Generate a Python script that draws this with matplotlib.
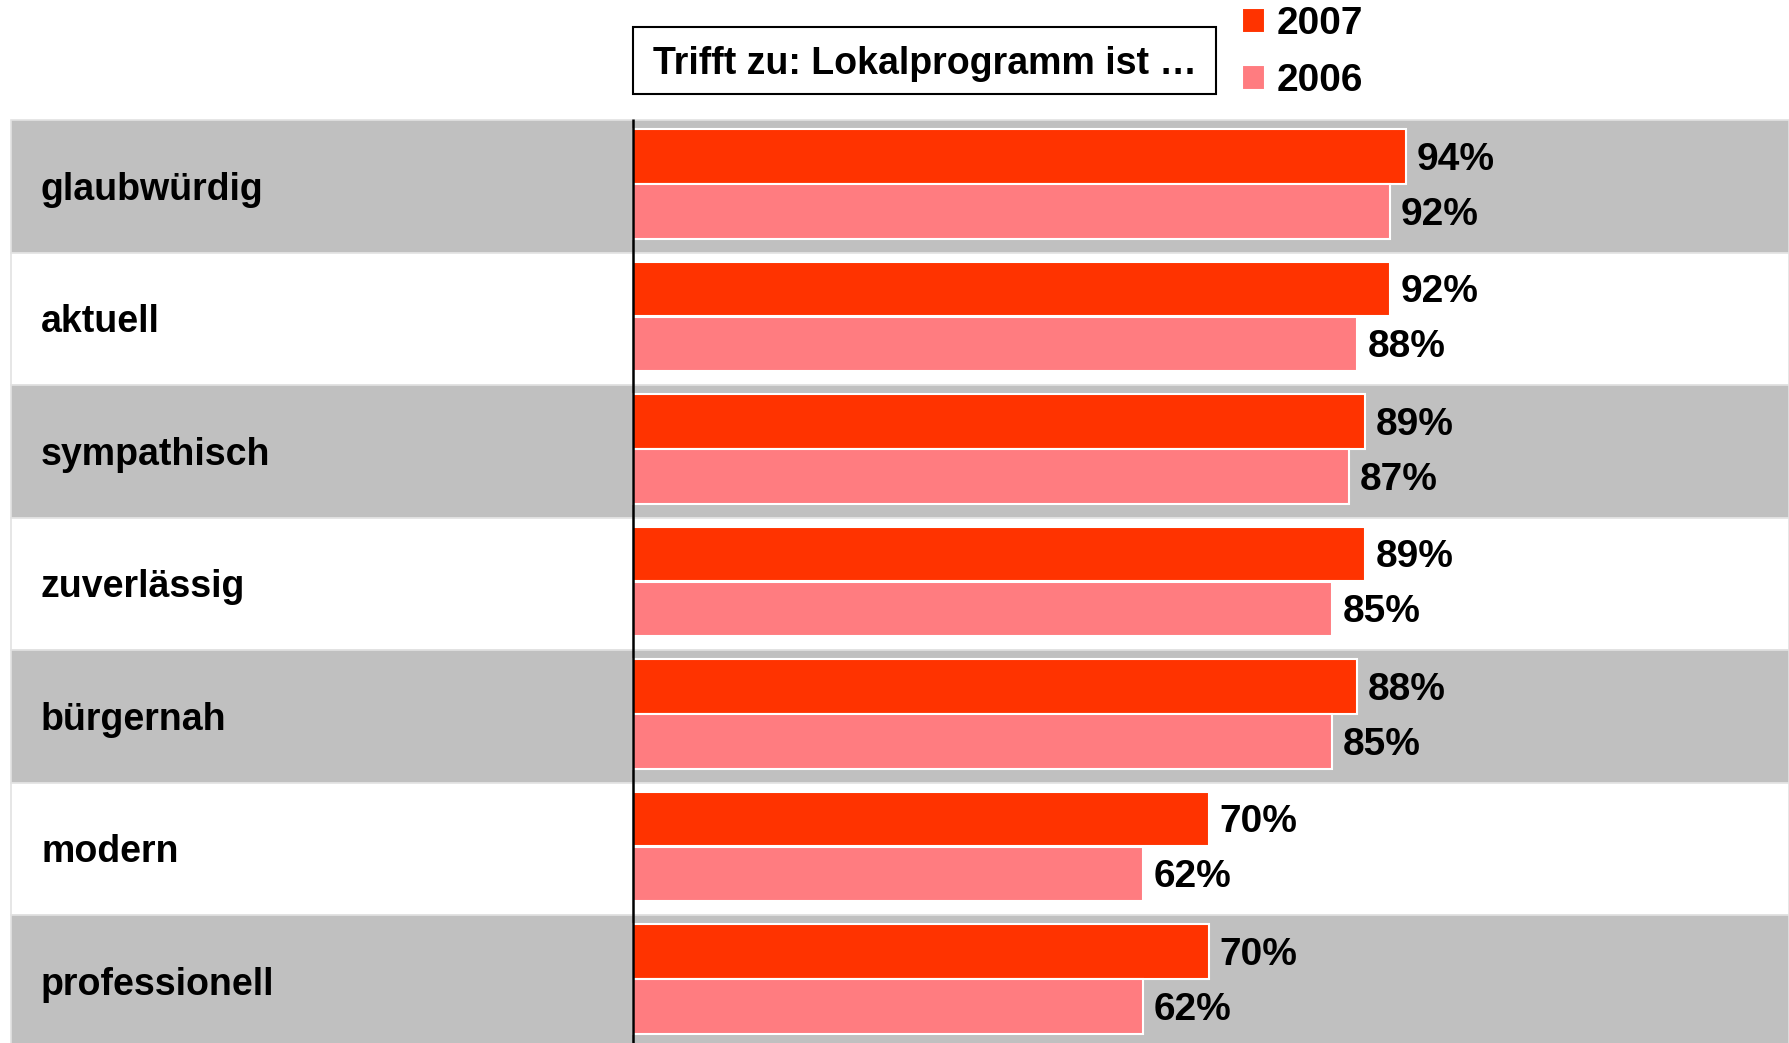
import matplotlib.pyplot as plt
from matplotlib.patches import Rectangle

categories = ["glaubwürdig", "aktuell", "sympathisch", "zuverlässig",
              "bürgernah", "modern", "professionell"]
vals_2007 = [94, 92, 89, 89, 88, 70, 70]
vals_2006 = [92, 88, 87, 85, 85, 62, 62]
series_labels = ["2007", "2006"]
title_text = "Trifft zu: Lokalprogramm ist …"

W, H = 1789, 1043
plt.rcParams['font.family'] = ['Liberation Sans', 'DejaVu Sans']
plt.rcParams['font.weight'] = 'bold'
fs = 27

fig = plt.figure(figsize=(W / 100, H / 100), dpi=100)
ax = fig.add_axes([0, 0, 1, 1])
ax.set_axis_off()

# pixel geometry: axis at x=633, 8.227 px per percent, rows 132.5 px from y=120
px_per = 8.227
x0 = 633
row_h = 132.5
top = 120
ax.set_xlim(-x0 / px_per, (W - x0) / px_per)
ax.set_ylim((H - top) / row_h, -top / row_h)

# alternating row bands
for i in range(len(categories)):
    col = '#c0c0c0' if i % 2 == 0 else 'white'
    ax.axhspan(i, i + 1, xmin=11 / W, xmax=1, facecolor=col,
               edgecolor='#e2e2e2', linewidth=1.2, zorder=0)

pos = list(range(len(categories)))
y07 = [p + 0.275 for p in pos]
y06 = [p + 0.69 for p in pos]
b07 = ax.barh(y07, vals_2007, height=0.41, color='#ff3300',
              edgecolor='white', linewidth=1.5, label=series_labels[0], zorder=2)
b06 = ax.barh(y06, vals_2006, height=0.41, color='#ff7c80',
              edgecolor='white', linewidth=1.5, label=series_labels[1], zorder=2)

dy = 0.025  # nudge text down to sit visually centred
for y, v in zip(y07, vals_2007):
    ax.text(v + 1.3, y + dy, f"{v}%", va='center', ha='left', fontsize=28,
            fontweight='bold', zorder=3)
for y, v in zip(y06, vals_2006):
    ax.text(v + 1.3, y + dy, f"{v}%", va='center', ha='left', fontsize=28,
            fontweight='bold', zorder=3)

trans = ax.get_yaxis_transform()
for i, c in enumerate(categories):
    ax.text(41 / W, i + 0.5 + dy, c, transform=trans, va='center', ha='left',
            fontsize=fs, fontweight='bold')

ax.vlines(0, -0.01, (H - top) / row_h, color='black', linewidth=1.8, zorder=4)

# title box
fig.patches.append(Rectangle((633 / W, 1 - 94 / H), (1216 - 633) / W, 67 / H,
                             transform=fig.transFigure, facecolor='white',
                             edgecolor='black', linewidth=1.5))
fig.text((633 + 1216) / 2 / W, 1 - 64 / H, title_text, ha='center',
         va='center', fontsize=fs, fontweight='bold')

leg = fig.legend(handles=[b07, b06], loc='upper left',
                 bbox_to_anchor=(1242 / W, 1 - 6 / H), frameon=False,
                 borderpad=0, borderaxespad=0, handlelength=0.6,
                 handleheight=0.6, handletextpad=0.3, labelspacing=0.55,
                 prop={'size': 28, 'weight': 'bold'})

fig.savefig('out.png', dpi=100)
